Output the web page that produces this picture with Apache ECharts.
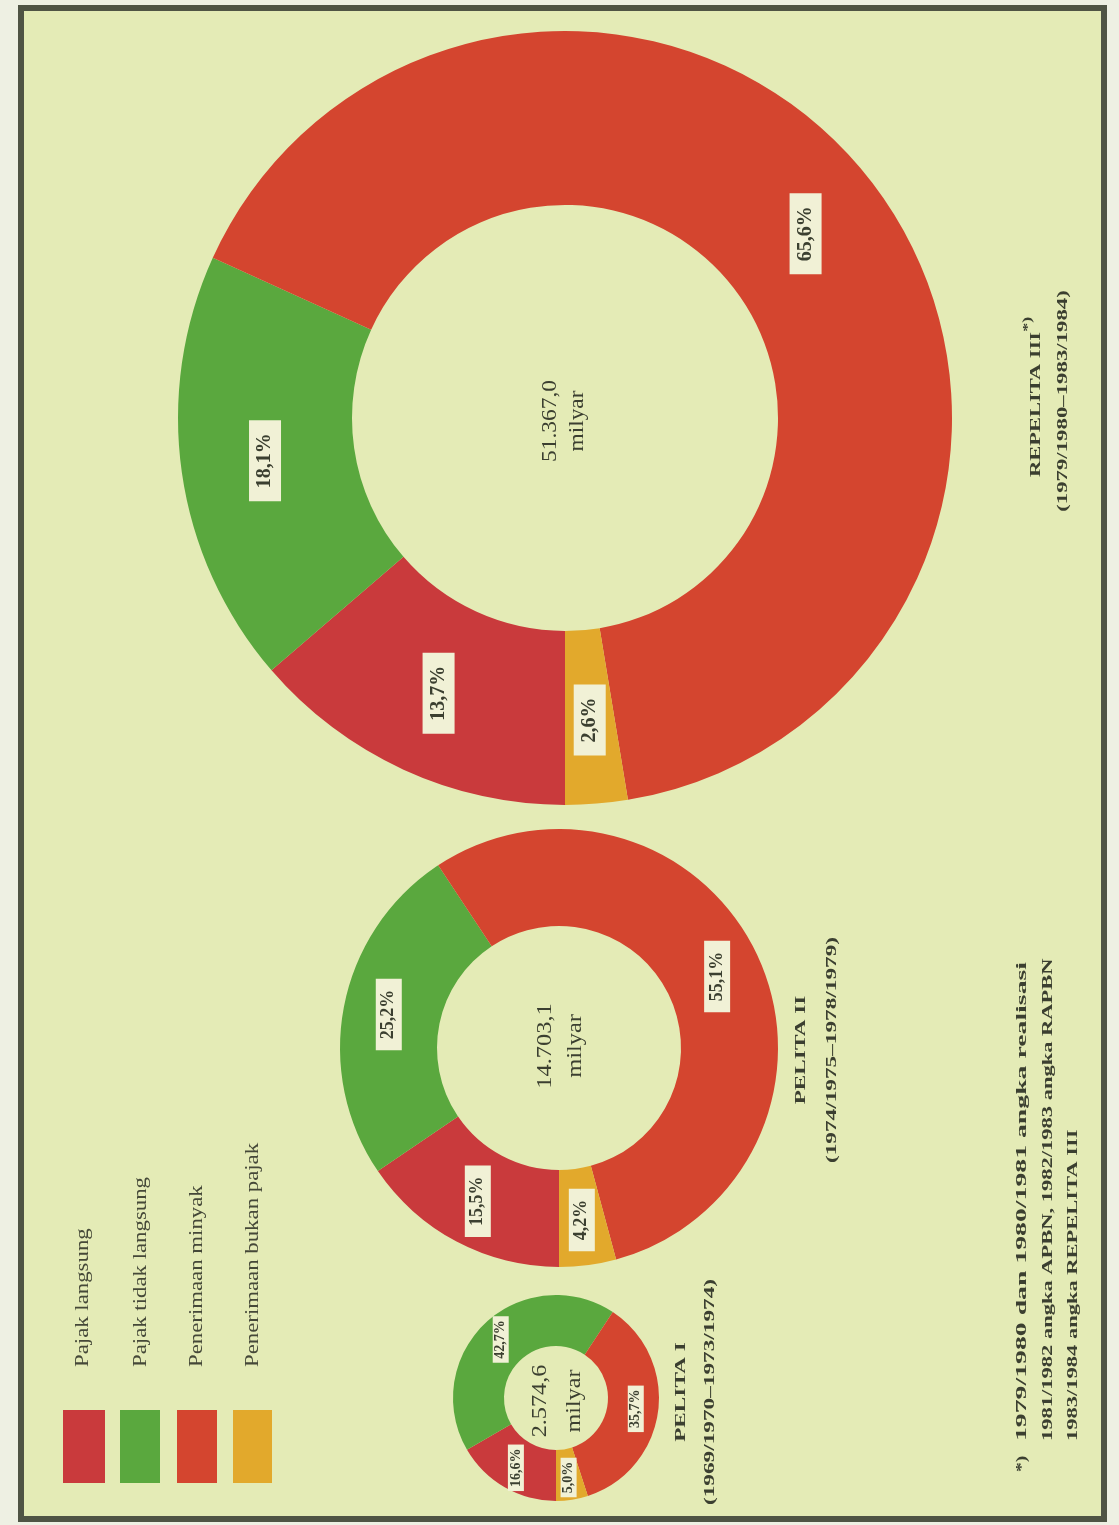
<!DOCTYPE html>
<html>
<head>
<meta charset="utf-8">
<script src="https://cdn.jsdelivr.net/npm/echarts@6/dist/echarts.min.js"></script>
<style>
  html, body { margin: 0; padding: 0; background: #eef0e3; }
  #chart { width: 1119px; height: 1525px; }
</style>
</head>
<body>
<div id="chart"></div>
<script>
// ---- data ----
const categories = ['Pajak langsung', 'Pajak tidak langsung', 'Penerimaan minyak', 'Penerimaan bukan pajak'];
const pelita1 = [16.6, 42.7, 35.7, 5.0];
const pelita2 = [15.5, 25.2, 55.1, 4.2];
const repelita3 = [13.7, 18.1, 65.6, 2.6];
const totals = ['2.574,6', '14.703,1', '51.367,0'];
const unitLabel = 'milyar';
const periodNames = ['PELITA I', 'PELITA II', 'REPELITA III'];
const periodYears = ['(1969/1970–1973/1974)', '(1974/1975–1978/1979)', '(1979/1980–1983/1984)'];
const footnoteMark = '*)';
const footnoteLines = [
  '1979/1980 dan 1980/1981 angka realisasi',
  '1981/1982 angka APBN, 1982/1983 angka RAPBN',
  '1983/1984 angka REPELITA III'
];

// ---- styling ----
const colors = ['#c93a3c', '#5aa83e', '#d4452f', '#e2a92c'];
const serif = '"Liberation Serif", "DejaVu Serif", serif';
const ink = '#3b3f30';
const fmt = v => v.toFixed(1).replace('.', ',') + '%';

const chart = echarts.init(document.getElementById('chart'), null, { renderer: 'canvas' });

function pieSeries(values, center, radius, fontSize, padding) {
  return {
    type: 'pie',
    center: center,
    radius: radius,
    startAngle: 270,
    clockwise: true,
    avoidLabelOverlap: false,
    silent: true,
    data: categories.map((n, i) => ({ name: n, value: values[i] })),
    itemStyle: { borderWidth: 0 },
    label: {
      show: true,
      position: 'inside',
      rotate: 90,
      formatter: p => fmt(p.value),
      fontFamily: serif,
      fontWeight: 'bold',
      fontSize: fontSize,
      color: ink,
      textBorderWidth: 0,
      backgroundColor: '#f1f1d6',
      padding: padding
    },
    labelLine: { show: false },
    emphasis: { disabled: true }
  };
}

function vtext(x, y, text, o) {
  return {
    type: 'text',
    x: x, y: y,
    rotation: Math.PI / 2,
    scaleX: o.scale || 1,
    z: 100,
    silent: true,
    style: {
      text: text,
      font: (o.weight || 'normal') + ' ' + o.size + 'px ' + serif,
      fill: o.color || ink,
      align: o.align || 'center',
      verticalAlign: 'middle',
      lineHeight: o.lineHeight,
      rich: o.rich
    }
  };
}

const graphics = [];
// frame / background
graphics.push({
  type: 'rect', z: -10, silent: true,
  shape: { x: 21, y: 8, width: 1083, height: 1511 },
  style: { fill: '#e4ebb6', stroke: '#4f5444', lineWidth: 6 }
});

// legend
const swatchX = [63, 120, 177, 233];
const swatchW = [42, 40, 40, 39];
const legendTextX = [83, 141, 197, 253];
categories.forEach((c, i) => {
  graphics.push({
    type: 'rect', z: 50, silent: true,
    shape: { x: swatchX[i], y: 1410, width: swatchW[i], height: 73 },
    style: { fill: colors[i] }
  });
  graphics.push(vtext(legendTextX[i], 1367, c, { size: 19, scale: 1.2, align: 'left', color: '#454838' }));
});

// center totals
graphics.push(vtext(557, 1401, totals[0] + '\n' + unitLabel, { size: 22, scale: 1.1, lineHeight: 34 }));
graphics.push(vtext(561, 1046, totals[1] + '\n' + unitLabel, { size: 20, scale: 1.22, lineHeight: 30 }));
graphics.push(vtext(564, 421, totals[2] + '\n' + unitLabel, { size: 20, scale: 1.17, lineHeight: 27 }));

// period titles
graphics.push(vtext(681, 1392, periodNames[0], { size: 15, weight: 'bold', scale: 1.55 }));
graphics.push(vtext(710, 1392, periodYears[0], { size: 15, weight: 'bold', scale: 1.55 }));
graphics.push(vtext(801, 1050, periodNames[1], { size: 15, weight: 'bold', scale: 1.55 }));
graphics.push(vtext(832, 1050, periodYears[1], { size: 15, weight: 'bold', scale: 1.55 }));
graphics.push(vtext(1033, 397, '{a|' + periodNames[2] + '}{s|*)}', {
  size: 15, weight: 'bold', scale: 1.5,
  rich: {
    a: { font: 'bold 15px ' + serif, fill: ink, lineHeight: 22, verticalAlign: 'bottom' },
    s: { font: 'bold 12px ' + serif, fill: ink, lineHeight: 22, verticalAlign: 'top' }
  }
}));
graphics.push(vtext(1063, 401, periodYears[2], { size: 15, weight: 'bold', scale: 1.52 }));

// footnote
graphics.push(vtext(1022, 1464, footnoteMark, { size: 15, weight: 'bold', scale: 1.3 }));
const footScale = [1.85, 1.5, 1.5];
const footX = [1022, 1048, 1073];
footnoteLines.forEach((t, i) => {
  graphics.push(vtext(footX[i], 1441, t, { size: 15, weight: 'bold', scale: footScale[i], align: 'left' }));
});

chart.setOption({
  animation: false,
  color: colors,
  graphic: graphics,
  series: [
    pieSeries(pelita1, [556, 1398], [52, 103], 14, [1, 4]),
    pieSeries(pelita2, [559, 1048], [122, 219], 18, [4, 11]),
    pieSeries(repelita3, [565, 418], [213, 387], 20, [6, 13])
  ]
});
</script>
</body>
</html>
